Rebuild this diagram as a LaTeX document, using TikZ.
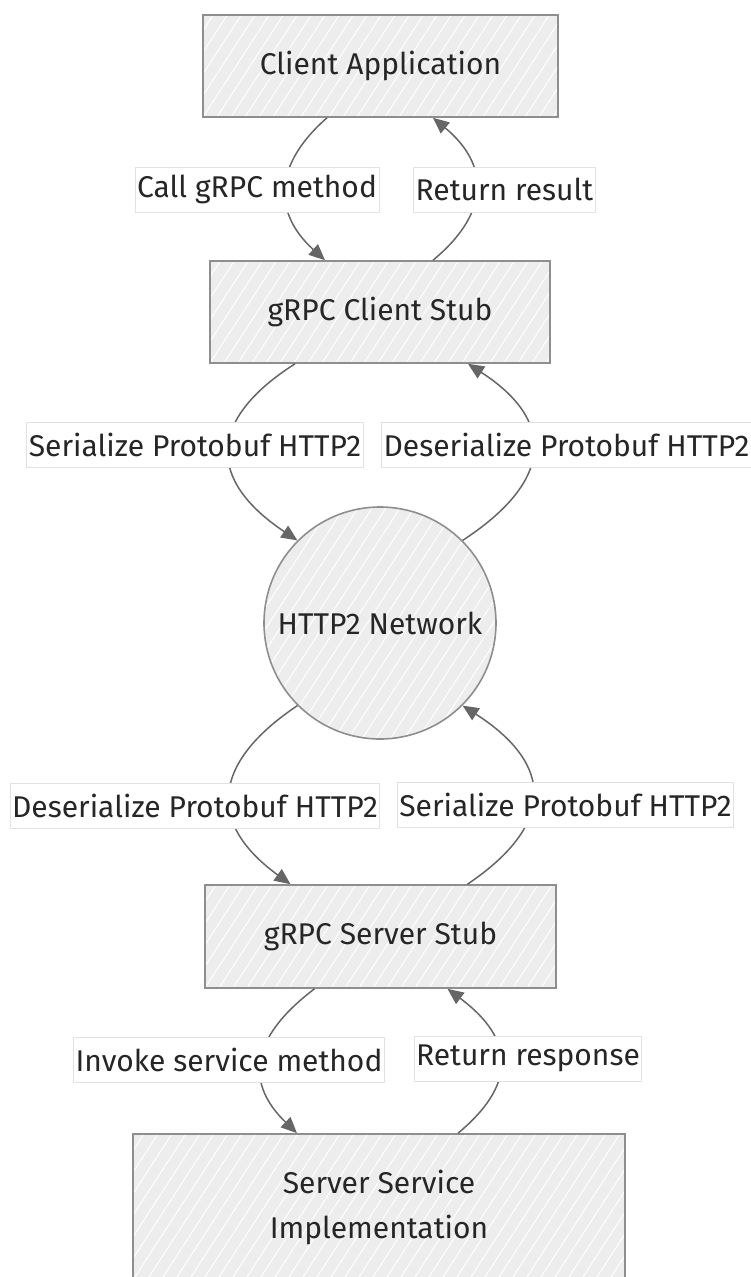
\documentclass[tikz,border=0pt]{standalone}
\usepackage{fontspec}
\setmainfont{Fira Sans}
\usetikzlibrary{arrows.meta}

\definecolor{boxfill}{HTML}{EDEDED}
\definecolor{boxline}{HTML}{8E8E8E}
\definecolor{edgeline}{HTML}{666666}
\definecolor{inktext}{HTML}{262626}
\definecolor{labelline}{HTML}{E2E2E2}

\tikzset{
  hachure/.style={
    path picture={
      \foreach \k in {-45,...,45}{
        \draw[white, line width=1pt]
          ([xshift=\k*14pt]path picture bounding box.south west) -- ++(57:420pt);
      }
    }
  },
  procbox/.style={
    rectangle, draw=boxline, line width=1.6pt, fill=boxfill, hachure,
    inner sep=0pt, text=inktext, align=center,
    font=\fontsize{30}{45}\selectfont
  },
  netcircle/.style={
    circle, draw=boxline, line width=1.6pt, fill=boxfill, hachure,
    inner sep=0pt, minimum size=232pt, text=inktext,
    font=\fontsize{30}{36}\selectfont
  },
  flow/.style={
    draw=edgeline, line width=1.5pt,
    -{Triangle[length=16pt,width=14pt]}
  },
  edgelabel/.style={
    rectangle, fill=white, draw=labelline, line width=0.8pt,
    inner xsep=2pt, inner ysep=0pt, minimum height=45pt, text=inktext,
    font=\fontsize{30}{36}\selectfont
  }
}

\begin{document}
\begin{tikzpicture}[x=1pt, y=-1pt]
  \useasboundingbox (0,0) rectangle (751,1277);
  \clip (0,0) rectangle (751,1277);

  % components of the call chain
  \node[procbox, minimum width=355pt, minimum height=102pt] (app)   at (380.5,66)   {Client Application};
  \node[procbox, minimum width=340pt, minimum height=102pt] (cstub) at (380,312)    {gRPC Client Stub};
  \node[netcircle]                                          (net)   at (380,623)    {HTTP2 Network};
  \node[procbox, minimum width=351pt, minimum height=103pt] (sstub) at (380.5,936.5){gRPC Server Stub};
  \node[procbox, minimum width=492pt, minimum height=146pt] (impl)  at (379,1207)
    {Server Service\\Implementation};

  % request and response paths
  \draw[flow] ([xshift=-53.5pt]app.south) .. controls (273,165) and (273,213) .. ([xshift=-55pt]cstub.north);
  \draw[flow] ([xshift=53pt]cstub.north) .. controls (490,213) and (490,165) .. ([xshift=52.5pt]app.south);

  \draw[flow] ([xshift=-85pt]cstub.south) .. controls (207,420) and (207,480) .. (net.135);
  \draw[flow] (net.45) .. controls (555,480) and (555,420) .. ([xshift=88pt]cstub.south);

  \draw[flow] (net.225) .. controls (209,765) and (209,825) .. ([xshift=-90pt]sstub.north);
  \draw[flow] ([xshift=87pt]sstub.north) .. controls (555,825) and (555,765) .. (net.315);

  \draw[flow] ([xshift=-66pt]sstub.south) .. controls (247,1040) and (247,1085) .. ([xshift=-82pt]impl.north);
  \draw[flow] ([xshift=79pt]impl.north) .. controls (516,1085) and (516,1040) .. ([xshift=67pt]sstub.south);

  % edge labels
  \node[edgelabel] (l1) at (257,189.5)  {Call gRPC method};
  \node[edgelabel] (l2) at (504.5,189.5){Return result};
  \node[edgelabel] (l3) at (195,444.5)  {Serialize Protobuf HTTP2};
  \node[edgelabel] (l4) at (566.5,444.5){Deserialize Protobuf HTTP2};
  \node[edgelabel] (l5) at (195,805.5)  {Deserialize Protobuf HTTP2};
  \node[edgelabel] (l6) at (565.5,805)  {Serialize Protobuf HTTP2};
  \node[edgelabel] (l7) at (229,1060)   {Invoke service method};
  \node[edgelabel] (l8) at (528,1058.5) {Return response};
\end{tikzpicture}
\end{document}
